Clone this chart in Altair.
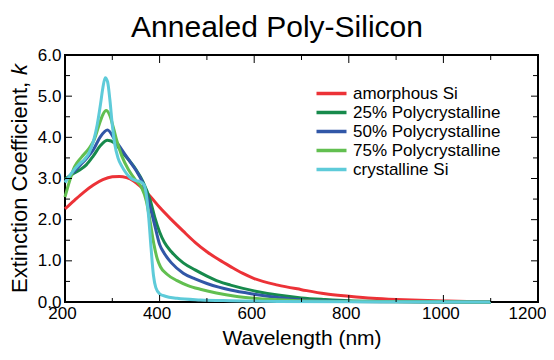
import altair as alt
import pandas as pd

series_names = ["amorphous Si", "25% Polycrystalline", "50% Polycrystalline",
                "75% Polycrystalline", "crystalline Si"]
series_colors = ["#ec3237", "#178a4c", "#3157a7", "#62bf50", "#5ecbd9"]

amorphous_wl = [200, 220, 240, 260, 280, 300, 315, 330, 345, 360, 380, 400, 425, 450, 475, 500,
                525, 550, 575, 600, 650, 700, 750, 800, 850, 900, 950, 1000, 1050, 1100]
amorphous_k = [2.26, 2.47, 2.67, 2.84, 2.97, 3.04, 3.05, 3.02, 2.94, 2.80, 2.57, 2.30, 2.00, 1.72,
               1.45, 1.22, 1.03, 0.86, 0.70, 0.57, 0.41, 0.30, 0.20, 0.14, 0.09, 0.06, 0.04, 0.025,
               0.015, 0.01]

poly25_wl = [200, 215, 230, 245, 260, 275, 290, 305, 320, 335, 350, 365, 380, 390, 400, 410, 425,
             450, 475, 500, 525, 550, 600, 650, 700, 750, 800, 900, 1000, 1100]
poly25_k = [2.98, 3.10, 3.20, 3.33, 3.55, 3.80, 3.93, 3.86, 3.65, 3.45, 3.22, 2.92, 2.48, 2.05,
            1.70, 1.45, 1.22, 0.95, 0.78, 0.63, 0.50, 0.41, 0.27, 0.17, 0.10, 0.06, 0.03, 0.01,
            0.005, 0.0]

poly50_wl = [200, 215, 230, 245, 260, 275, 290, 305, 320, 335, 350, 365, 380, 390, 400, 410, 425,
             450, 475, 500, 525, 550, 600, 650, 700, 800, 900, 1100]
poly50_k = [2.93, 3.12, 3.30, 3.48, 3.70, 4.02, 4.18, 3.95, 3.70, 3.45, 3.20, 2.88, 2.31, 1.85,
            1.40, 1.18, 0.95, 0.70, 0.56, 0.45, 0.36, 0.29, 0.19, 0.11, 0.05, 0.015, 0.005, 0.0]

poly75_wl = [200, 210, 220, 235, 250, 262, 272, 280, 287, 294, 302, 310, 320, 335, 350, 362, 372,
             380, 388, 395, 402, 415, 437, 460, 486, 520, 560, 600, 700, 800, 1100]
poly75_k = [2.55, 2.95, 3.28, 3.52, 3.72, 3.95, 4.30, 4.55, 4.65, 4.55, 4.25, 3.90, 3.55, 3.20,
            2.95, 2.78, 2.45, 1.95, 1.40, 1.05, 0.85, 0.68, 0.52, 0.40, 0.31, 0.22, 0.14, 0.09,
            0.03, 0.01, 0.0]

cryst_wl = [200, 215, 230, 240, 250, 260, 268, 275, 280, 285, 290, 295, 300, 305, 312, 320, 330,
            340, 350, 360, 367, 372, 377, 382, 387, 392, 400, 412, 437, 486, 550, 650, 800, 1100]
cryst_k = [2.90, 3.15, 3.35, 3.45, 3.60, 3.90, 4.30, 4.80, 5.20, 5.45, 5.35, 4.90, 4.30, 3.85,
           3.50, 3.30, 3.12, 3.00, 2.95, 2.92, 2.85, 2.60, 2.05, 1.30, 0.65, 0.35, 0.20, 0.14,
           0.09, 0.05, 0.03, 0.015, 0.005, 0.0]

x_major = [200, 400, 600, 800, 1000, 1200]
x_minor = [300, 500, 700, 900, 1100]
y_major = [0, 1, 2, 3, 4, 5, 6]
y_minor = [0.5, 1.5, 2.5, 3.5, 4.5, 5.5]

chart_title = "Annealed Poly-Silicon"
x_title = "Wavelength (nm)"
y_title_main = "Extinction Coefficient,"
y_title_var = "k"

rows = []
for name, wl, k in zip(series_names,
                       [amorphous_wl, poly25_wl, poly50_wl, poly75_wl, cryst_wl],
                       [amorphous_k, poly25_k, poly50_k, poly75_k, cryst_k]):
    for a, b in zip(wl, k):
        rows.append({"series": name, "wl": a, "k": b})
df = pd.DataFrame(rows)

W, H = 473, 247
FONT = "Liberation Sans"
xscale = alt.Scale(domain=[200, 1200], nice=False, zero=False)
yscale = alt.Scale(domain=[0, 6], nice=False, zero=False)
xaxis = alt.Axis(values=x_major, format="d", title=x_title, labelFlush=False,
                 labelPadding=3, labelOffset={"expr": "datum.value == 1200 ? -11 : -3"},
                 titlePadding=6)
yaxis = alt.Axis(values=y_major, format=".1f", title="", labelPadding=4, labelFlush=False)

lines = alt.Chart(df).mark_line(strokeWidth=3, interpolate="monotone").encode(
    x=alt.X("wl:Q", scale=xscale, axis=xaxis),
    y=alt.Y("k:Q", scale=yscale, axis=yaxis),
    color=alt.Color("series:N",
                    scale=alt.Scale(domain=series_names, range=series_colors),
                    title=None,
                    legend=alt.Legend(orient="none", legendX=257, legendY=29,
                                      symbolType="M-2,0H2", symbolSize=225,
                                      symbolStrokeWidth=3.5, labelFontSize=17,
                                      labelFont=FONT, labelColor="black",
                                      labelOffset=12, rowPadding=1, padding=0)),
)


def xticks(vals, y0, y1):
    return alt.Chart(pd.DataFrame({"wl": vals})).mark_rule(color="black", strokeWidth=1).encode(
        x=alt.X("wl:Q", scale=xscale, axis=xaxis), y=alt.value(y0), y2=alt.value(y1))


def yticks(vals, x0, x1):
    return alt.Chart(pd.DataFrame({"k": vals})).mark_rule(color="black", strokeWidth=1).encode(
        y=alt.Y("k:Q", scale=yscale, axis=yaxis), x=alt.value(x0), x2=alt.value(x1))


tick_layers = [
    xticks(x_major, H, H - 7), xticks(x_minor, H, H - 4),
    xticks(x_major, 0, 8), xticks(x_minor, 0, 5),
    yticks(y_major, 0, 7), yticks(y_minor, 0, 5),
    yticks(y_major, W, W - 7), yticks(y_minor, W, W - 5),
]

ytitle_main = alt.Chart(pd.DataFrame({"t": [y_title_main]})).mark_text(
    angle=270, align="left", baseline="middle", fontSize=22, font=FONT, color="black"
).encode(x=alt.value(-45), y=alt.value(238), text="t:N")

ytitle_k = alt.Chart(pd.DataFrame({"t": [y_title_var]})).mark_text(
    angle=270, align="right", baseline="middle", fontSize=22, font=FONT,
    fontStyle="italic", color="black"
).encode(x=alt.value(-45), y=alt.value(9), text="t:N")

title_text = alt.Chart(pd.DataFrame({"t": [chart_title]})).mark_text(
    align="center", baseline="alphabetic", fontSize=30, font=FONT, color="black"
).encode(x=alt.value(212), y=alt.value(-18), text="t:N")

chart = alt.layer(lines, *tick_layers, ytitle_main, ytitle_k, title_text).properties(
    width=W, height=H,
    autosize=alt.AutoSizeParams(type="none"),
    padding={"left": 57, "top": 47, "right": 8, "bottom": 50},
    background="white",
).configure_view(stroke="black", strokeWidth=2).configure_axis(
    domain=False, ticks=False, grid=False, labelFontSize=17, labelFont=FONT,
    labelColor="black", titleFontSize=21, titleFont=FONT, titleColor="black",
    titleFontWeight="normal"
)

chart.save("out.html", embed_options={"renderer": "svg", "actions": False})
